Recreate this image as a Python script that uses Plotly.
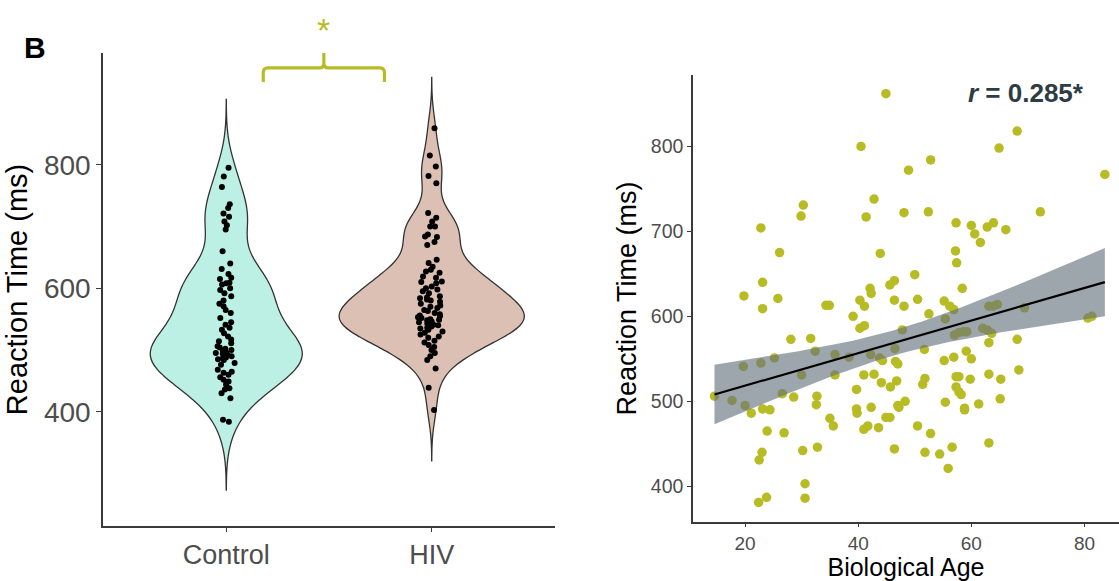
import numpy as np
import plotly.graph_objects as go

# ---------------- data ----------------
categories = ["Control", "HIV"]

control_rt = [795, 781, 764, 736, 730, 721, 716, 708, 702, 695, 660, 640, 631, 623, 617,
              615, 609, 608, 606, 600, 597, 592, 587, 580, 575, 571, 565, 560, 552, 545,
              541, 536, 533, 527, 522, 517, 514, 511, 506, 504, 502, 500, 498, 496, 495,
              494, 492, 490, 488, 487, 485, 484, 479, 476, 468, 465, 463, 460, 456, 452,
              449, 444, 438, 436, 430, 422, 387, 384]

hiv_rt = [859, 815, 797, 782, 770, 722, 714, 708, 700, 700, 687, 684, 683, 675, 670,
          646, 641, 635, 630, 627, 625, 619, 617, 611, 610, 608, 603, 600, 598, 595,
          592, 587, 584, 585, 582, 580, 578, 575, 572, 570, 568, 565, 563, 560, 558,
          556, 555, 553, 552, 550, 549, 548, 546, 545, 543, 541, 540, 538, 536, 535,
          533, 530, 528, 525, 522, 520, 515, 512, 508, 505, 500, 495, 490, 484, 470,
          439, 403]

bio_age = [44.9, 68.1, 40.5, 64.9, 52.8, 48.9, 83.6, 42.8, 30.3, 29.9, 41.4, 48.1, 52.4, 72.2,
           22.8, 57.3, 60.0, 60.6, 61.6, 62.8, 63.9, 66.1, 26.1, 43.9, 57.2, 57.4, 50.0, 23.1,
           45.6, 46.4, 58.4, 42.1, 42.3, 19.8, 25.8, 40.3, 46.4, 50.5, 55.2, 34.3, 34.9, 48.1,
           23.1, 39.1, 41.1, 40.3, 41.1, 52.5, 56.2, 56.9, 55.4, 47.8, 57.0, 57.8, 58.6, 59.2,
           63.1, 63.8, 64.6, 62.0, 62.8, 63.6, 63.1, 68.1, 69.4, 80.6, 81.3, 28.1, 31.6, 32.4,
           25.2, 19.7, 22.8, 35.9, 38.4, 35.9, 30.0, 41.0, 42.8, 42.2, 43.8, 44.3, 46.5, 46.6,
           47.0, 51.7, 55.2, 56.9, 59.1, 60.0, 63.1, 65.2, 68.4, 51.8, 51.4, 46.8, 44.1, 45.7,
           39.7, 57.3, 57.8, 57.3, 57.8, 58.2, 59.8, 26.6, 28.6, 32.7, 32.6, 14.6, 17.7, 20.0,
           21.1, 23.1, 24.4, 39.7, 39.8, 42.3, 47.0, 48.3, 47.2, 55.4, 58.8, 58.8, 61.3, 65.1,
           23.9, 26.9, 35.0, 35.6, 41.0, 41.7, 43.6, 44.9, 45.6, 50.5, 52.8, 32.8, 46.4, 51.8,
           54.4, 56.6, 63.1, 55.9, 22.5, 23.0, 30.2, 30.6, 30.6, 22.4, 23.8]

bio_rt = [862, 818, 800, 798, 784, 772, 767, 738, 731, 718, 717, 722, 723, 723,
          704, 710, 707, 697, 687, 705, 710, 702, 675, 674, 677, 663, 649, 640,
          637, 642, 633, 633, 627, 624, 621, 619, 619, 620, 618, 613, 613, 612,
          609, 600, 612, 586, 589, 603, 612, 608, 597, 584, 578, 581, 582, 582,
          612, 612, 614, 586, 584, 580, 569, 573, 610, 598, 600, 573, 574, 559,
          551, 541, 545, 555, 552, 531, 531, 531, 532, 555, 551, 548, 562, 547,
          544, 561, 548, 552, 559, 550, 532, 526, 537, 527, 520, 524, 522, 517,
          514, 529, 529, 517, 511, 508, 526, 509, 505, 506, 496, 506, 501, 495,
          486, 491, 490, 491, 486, 493, 495, 500, 493, 499, 492, 490, 497, 503,
          465, 463, 480, 471, 467, 471, 469, 481, 481, 471, 462, 446, 444, 440,
          438, 446, 451, 421, 431, 440, 442, 403, 386, 381, 387]

r_value_text = "0.285*"

# ---------------- styles ----------------
FONT = "Liberation Sans, Arial, Helvetica, sans-serif"
TICK_GRAY = "#4d4d4d"
AXIS_COL = "#3a3a3a"
OLIVE = "#b7bc25"
W, H = 1119, 581

fig = go.Figure()

# ---- left panel: violins ----
violin_specs = [
    (categories[0], control_rt, "#bdf0e5", 0.74, 37.0),
    (categories[1], hiv_rt, "#ddc0b4", 0.90, 27.5),
]
for i, (name, vals, col, wid, bw) in enumerate(violin_specs):
    v = np.asarray(vals, dtype=float)
    fig.add_trace(go.Violin(
        y=v, x0=i, name=name, xaxis="x", yaxis="y",
        fillcolor=col, line=dict(color="#333333", width=1.3),
        width=wid, bandwidth=bw, spanmode="manual",
        span=[v.min() - 3 * bw, v.max() + 3 * bw],
        points="all", pointpos=0, jitter=0.17,
        marker=dict(color="black", size=6, line=dict(width=0)),
        box_visible=False, meanline_visible=False, scalemode="width",
        showlegend=False, hoveron="points",
    ))

# ---- right panel: scatter + lm fit ----
xa = np.asarray(bio_age, dtype=float)
ya = np.asarray(bio_rt, dtype=float)
fig.add_trace(go.Scatter(x=xa, y=ya, mode="markers", xaxis="x2", yaxis="y2",
                         marker=dict(color=OLIVE, size=9.5, line=dict(width=0)),
                         showlegend=False))

n = len(xa)
slope, intercept = np.polyfit(xa, ya, 1)
xg = np.linspace(xa.min(), xa.max(), 80)
yg = intercept + slope * xg
resid = ya - (intercept + slope * xa)
s = np.sqrt(np.sum(resid ** 2) / (n - 2))
sxx = np.sum((xa - xa.mean()) ** 2)
se = s * np.sqrt(1.0 / n + (xg - xa.mean()) ** 2 / sxx)
tval = 1.976
fig.add_trace(go.Scatter(x=np.concatenate([xg, xg[::-1]]),
                         y=np.concatenate([yg + tval * se, (yg - tval * se)[::-1]]),
                         fill="toself", fillcolor="rgba(98,112,122,0.62)",
                         line=dict(width=0), mode="lines", xaxis="x2", yaxis="y2",
                         showlegend=False, hoverinfo="skip"))
fig.add_trace(go.Scatter(x=xg, y=yg, mode="lines", line=dict(color="black", width=2.2),
                         xaxis="x2", yaxis="y2", showlegend=False))

# ---- bracket (significance) in left-panel data coordinates ----
bx0, bx1, bxm = 0.18, 0.77, 0.475
by_end, by_h, by_top = 934, 957, 981
cx, cy = 0.022, 8
path = (f"M {bx0},{by_end} L {bx0},{by_h - cy} Q {bx0},{by_h} {bx0 + cx},{by_h} "
        f"L {bxm - cx},{by_h} Q {bxm},{by_h} {bxm},{by_h + cy} L {bxm},{by_top} "
        f"M {bxm},{by_h + cy} Q {bxm},{by_h} {bxm + cx},{by_h} "
        f"L {bx1 - cx},{by_h} Q {bx1},{by_h} {bx1},{by_h - cy} L {bx1},{by_end}")
fig.add_shape(type="path", path=path, xref="x", yref="y",
              line=dict(color=OLIVE, width=3.2))

axis_common = dict(showline=True, linecolor=AXIS_COL, linewidth=1.5, ticks="outside",
                   tickwidth=1.2, tickcolor=AXIS_COL, showgrid=False,
                   zeroline=False, mirror=False)

fig.update_layout(
    width=W, height=H, margin=dict(l=0, r=0, t=0, b=0),
    paper_bgcolor="white", plot_bgcolor="white",
    font=dict(family=FONT, color="black"),
    violinmode="overlay",
    xaxis=dict(domain=[103 / W, 555 / W], range=[-0.6, 1.6], tickvals=[0, 1],
               ticktext=categories, anchor="y", ticklen=4,
               tickfont=dict(size=27, color=TICK_GRAY), **axis_common),
    yaxis=dict(domain=[55 / H, 528 / H], range=[215, 981], tickvals=[400, 600, 800],
               anchor="x", ticklen=5, tickfont=dict(size=28, color=TICK_GRAY),
               title=dict(text="Reaction Time (ms)", font=dict(size=29, color="black"),
                          standoff=8), **axis_common),
    xaxis2=dict(domain=[693 / W, 1.0], range=[10.8, 86.1], tickvals=[20, 40, 60, 80],
                anchor="y2", ticklen=3, tickfont=dict(size=19, color=TICK_GRAY),
                title=dict(text="Biological Age", font=dict(size=25, color="black"),
                           standoff=7), **axis_common),
    yaxis2=dict(domain=[59 / H, 506 / H], range=[358, 884],
                tickvals=[400, 500, 600, 700, 800], anchor="x2", ticklen=4,
                tickfont=dict(size=19.5, color=TICK_GRAY),
                title=dict(text="Reaction Time (ms)", font=dict(size=27, color="black"),
                           standoff=6), **axis_common),
    annotations=[
        dict(text="<b>B</b>", x=22 / W, y=1 - 48 / H, xref="paper", yref="paper",
             xanchor="left", yanchor="middle", showarrow=False,
             font=dict(size=30, color="black")),
        dict(text="*", x=bxm, xref="x", y=1 - 30 / H, yref="paper",
             xanchor="center", yanchor="middle", showarrow=False,
             font=dict(size=34, color=OLIVE)),
        dict(text=f"<b><i>r</i> = {r_value_text}</b>",
             x=1086 / W, y=1 - 93 / H, xref="paper", yref="paper",
             xanchor="right", yanchor="middle", showarrow=False,
             font=dict(size=26, color="#2e3c44")),
    ],
)

fig.write_html("out.html", config={"displayModeBar": False},
               post_script="document.body.style.margin='0px';")
